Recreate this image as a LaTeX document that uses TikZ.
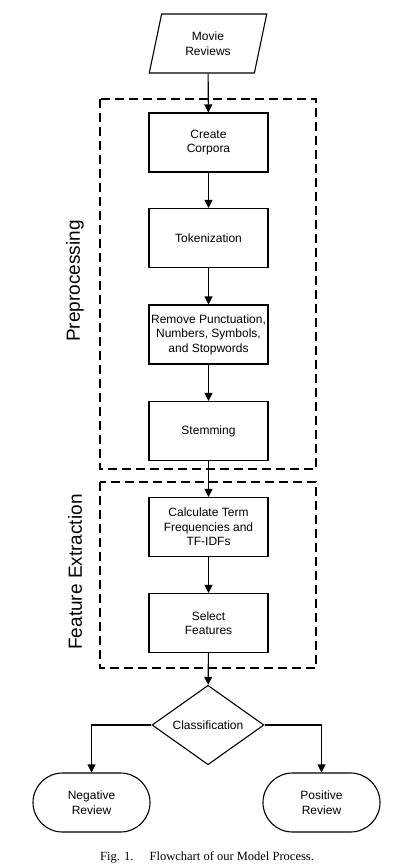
\documentclass[tikz,border=0pt]{standalone}
\usepackage{fontspec}
\setmainfont{Liberation Sans}
\newfontfamily\capfont{Liberation Serif}
\usetikzlibrary{arrows.meta,shapes.geometric,shapes.misc}

\begin{document}
\begin{tikzpicture}[
  x=1pt, y=-1pt,
  pbox/.style={draw,rectangle,line width=1.1pt,minimum width=119pt,minimum height=59pt,
    inner sep=1pt,align=center,font=\fontsize{12}{14.5}\selectfont},
  iobox/.style={draw,trapezium,trapezium left angle=76,trapezium right angle=104,
    trapezium stretches=true,line width=1.1pt,minimum width=118pt,minimum height=59pt,
    inner sep=1pt,align=center,font=\fontsize{12}{14.5}\selectfont},
  dbox/.style={draw,diamond,line width=1.1pt,minimum width=112pt,minimum height=56pt,
    inner sep=0pt,align=center,font=\fontsize{12}{14.5}\selectfont},
  tbox/.style={draw,rounded rectangle,line width=1.1pt,minimum width=119pt,minimum height=59pt,
    inner sep=1pt,align=center,font=\fontsize{12}{14.5}\selectfont},
  gbox/.style={draw,line width=2pt,dash pattern=on 9pt off 5pt},
  glabel/.style={rotate=90,font=\fontsize{19}{22}\selectfont},
  arr/.style={-{Triangle[length=8pt,width=8pt]},line width=1.1pt}
]
  \useasboundingbox (0,0) rectangle (417,867);

  % groups
  \draw[gbox] (100,99) rectangle (316,469);
  \draw[gbox] (100,482) rectangle (316,668);
  \node[glabel] (pre) at (75,281) {Preprocessing};
  \node[glabel] (fex) at (75,572) {Feature Extraction};

  % input
  \node[iobox] (rev) at (208,43.5) {Movie\\Reviews};

  % preprocessing steps
  \node[pbox] (corp) at (208.5,142.5) {Create\\Corpora};
  \node[pbox] (tok) at (208.5,238) {Tokenization};
  \node[pbox] (rem) at (208.5,334.5) {Remove Punctuation,\\Numbers, Symbols,\\and Stopwords};
  \node[pbox] (stem) at (208.5,431) {Stemming};

  % feature extraction steps
  \node[pbox] (tfidf) at (208.5,527) {Calculate Term\\Frequencies and\\TF-IDFs};
  \node[pbox] (sel) at (208.5,623) {Select\\Features};

  % decision and outputs
  \node[dbox] (cls) at (208,725) {Classification};
  \node[tbox] (neg) at (91.5,802.5) {Negative\\Review};
  \node[tbox] (pos) at (321.5,802.5) {Positive\\Review};

  % caption
  \node[font=\capfont\fontsize{12.5}{15}\selectfont] (cap) at (207,857)
    {Fig. 1.\hspace{1.3em}Flowchart of our Model Process.};

  % main edges
  \draw[arr] (rev) edge (corp);
  \draw[arr] (corp) edge (tok);
  \draw[arr] (tok) edge (rem);
  \draw[arr] (rem) edge (stem);
  \draw[arr] (stem) edge (tfidf);
  \draw[arr] (tfidf) edge (sel);
  \draw[arr] (sel) edge (cls);

  % output edges
  \draw[arr] (cls.west) -| (neg.north);
  \draw[arr] (cls.east) -| (pos.north);

\end{tikzpicture}
\end{document}
